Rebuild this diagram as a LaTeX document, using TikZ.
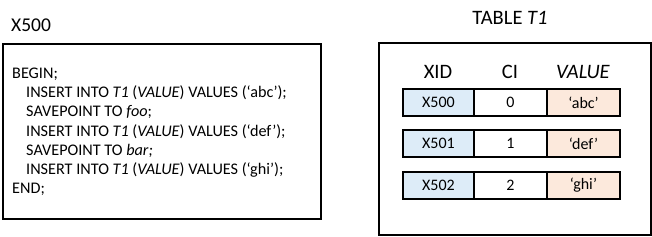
\documentclass[tikz,border=0pt]{standalone}
\usepackage{fontspec}
\setmainfont{Carlito}
\definecolor{cellblue}{RGB}{221,236,248}
\definecolor{cellpeach}{RGB}{252,233,220}
\tikzset{
  px/.style={x=1pt,y=-1pt},
  frame/.style={draw=black,line width=1.2pt},
  cell/.style={draw=black,line width=1.3pt,minimum height=27pt,inner sep=0pt,font=\fontsize{16}{18}\selectfont},
  code/.style={anchor=west,inner sep=0pt,font=\fontsize{16.2}{18}\selectfont},
  title/.style={inner sep=0pt,font=\fontsize{19.5}{22}\selectfont},
  head/.style={inner sep=0pt,font=\fontsize{20.5}{22}\selectfont},
}
\begin{document}
\begin{tikzpicture}[px]
\useasboundingbox (0,0) rectangle (652,236);
% left box
\node[title,anchor=west] (x500) at (11,25) {X500};
\draw[frame] (3,44) rectangle (321,219);
\node[code] (l1) at (12,74) {BEGIN;};
\node[code] (l2) at (26,93) {INSERT INTO \textit{T1} (\textit{VALUE}) VALUES (‘abc’);};
\node[code] (l3) at (26,112) {SAVEPOINT TO \textit{foo};};
\node[code] (l4) at (26,132) {INSERT INTO \textit{T1} (\textit{VALUE}) VALUES (‘def’);};
\node[code] (l5) at (26,151) {SAVEPOINT TO \textit{bar;}};
\node[code] (l6) at (26,170) {INSERT INTO \textit{T1} (\textit{VALUE}) VALUES (‘ghi’);};
\node[code] (l7) at (12,189) {END;};
% right box
\node[head] (tt) at (510,18) {TABLE \textit{T1}};
\draw[frame] (379,43) rectangle (651,235);
\node[head] (hx) at (438,72) {XID};
\node[head] (hc) at (510,72) {CI};
\node[head] (hv) at (583,72) {\textit{VALUE}};
\foreach \y/\id/\ci/\v [count=\i] in {102.5/X500/0/‘abc’,143.5/X501/1/‘def’,185.5/X502/2/‘ghi’}{
  \node[cell,fill=cellblue,minimum width=71pt] (a\i) at (438.5,\y) {\id};
  \node[cell,fill=white,minimum width=73pt] (b\i) at (510.5,\y) {\ci};
  \node[cell,fill=cellpeach,minimum width=73pt] (c\i) at (583.5,\y) {\v};
}
\end{tikzpicture}
\end{document}
